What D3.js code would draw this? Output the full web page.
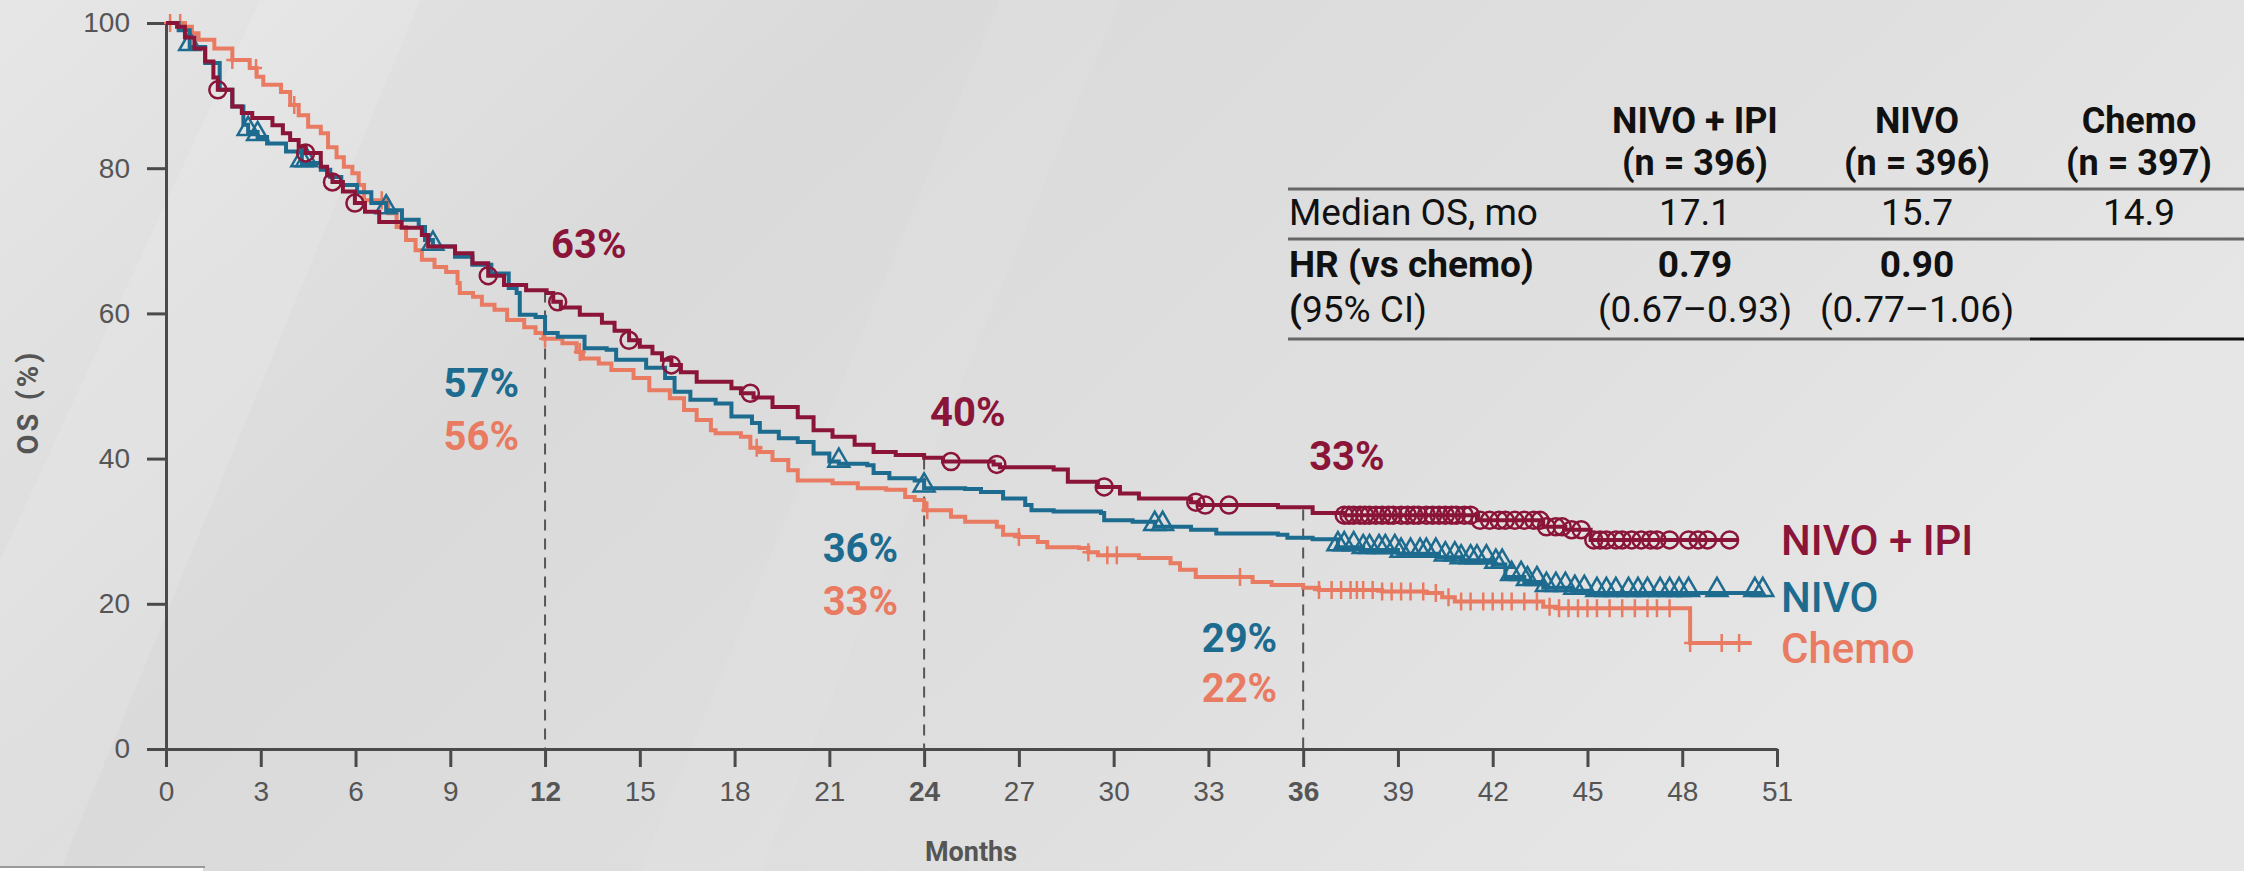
<!DOCTYPE html>
<html>
<head>
<meta charset="UTF-8">
<style>
  * { margin: 0; }
  body { background: #dedede; }
  svg { font-family: Roboto, "Open Sans", sans-serif; }
  .axis path, .axis line { stroke: #4a4a4a; stroke-width: 3px; }
  .axis text { fill: #555; font-size: 28px; }
  .tbl { fill: #111; }
</style>
<script src="https://cdn.jsdelivr.net/npm/d3@7"></script>
</head>
<body>
<svg id="chart" width="2244" height="871"></svg>
<script>
// ---- data ----
var series = ["NIVO + IPI", "NIVO", "Chemo"];
var colors = ["#8a1538", "#1d6b8f", "#e87b62"];

// [month, OS %] corners of the KM steps
var nivoIpi = [[0,100],[0.35,99.5],[0.6,98],[0.9,96.5],[1.24,94.7],[1.5,92.5],[1.64,90.8],[2.1,88.5],[2.4,87.6],
  [2.73,86.9],[3.37,85.9],[3.7,84.8],[3.93,83.9],[4.2,83.0],[4.42,82.1],[4.9,80.2],[5.1,79.0],[5.27,78.1],
  [5.6,76.8],[5.98,75.2],[6.3,74.0],[6.75,72.6],[7.46,71.8],[8.1,70.8],[8.3,69.2],[9.15,68.3],[9.7,66.9],
  [10.2,65.2],[10.7,63.9],[11.4,63.2],[12.05,62.8],[12.26,61.6],[12.5,60.8],[13.1,59.8],[13.8,58.7],
  [14.2,57.6],[14.66,56.3],[15.0,55.4],[15.4,54.5],[15.7,53.6],[16.0,52.9],[16.3,51.9],[16.8,50.6],
  [17.9,49.7],[18.2,49.0],[18.6,48.4],[19.2,47.1],[20.0,45.7],[20.5,43.9],[21.1,43.0],[21.8,41.9],
  [22.4,40.9],[23.1,40.5],[24.0,40.1],[24.6,39.6],[26.2,39.2],[26.4,38.8],[28.1,38.5],[28.55,36.8],
  [29.5,36.1],[30.2,35.2],[30.8,34.5],[32.45,34.0],[32.7,33.6],[35.2,33.3],[36.3,32.5],[37.3,32.2],
  [41.5,31.5],[43.6,30.6],[44.3,30.2],[45.1,28.8],[49.75,28.8]];

var nivo = [[0,100],[0.4,99],[0.75,96.7],[1.24,94.5],[1.7,90.8],[2.1,88.5],[2.45,86],[2.6,85.0],[2.9,84.3],
  [3.2,83.4],[3.8,82.3],[4.3,80.7],[4.9,79.8],[5.2,78.8],[5.55,77.7],[6.05,76.7],[6.5,75.2],[6.97,74.2],
  [7.47,72.9],[8.0,71.9],[8.2,70.1],[8.45,69.2],[9.15,67.8],[9.7,66.7],[10.3,65.5],[10.85,63.5],[11.1,62.8],
  [11.2,59.8],[11.7,59.5],[12.0,57.3],[12.4,56.8],[13.25,55.2],[13.95,55.0],[14.25,53.6],[15.2,52.5],
  [15.8,51.1],[16.1,49.2],[16.6,48.1],[17.4,47.6],[17.9,45.8],[18.55,44.9],[18.8,43.7],[19.4,42.8],
  [20.0,42.3],[20.5,40.7],[21.0,39.6],[21.3,39.3],[22.2,39.1],[22.4,38.0],[22.9,37.3],[23.7,37.0],
  [24.0,35.9],[25.3,35.8],[25.8,35.4],[26.5,34.5],[27.2,33.6],[27.4,32.9],[28.1,32.7],[29.6,32.5],
  [29.7,31.5],[30.6,31.3],[31.3,30.6],[32.45,30.2],[33.25,29.7],[35.2,29.5],[35.5,29.1],[36.3,28.9],
  [37.1,27.8],[37.9,27.4],[39.0,26.9],[40.3,26.4],[41.0,26.0],[42.0,25.4],[42.4,23.7],[43.0,23.0],
  [43.6,22.2],[44.5,21.8],[45.1,21.5],[50.55,21.5]];

var chemo = [[0,100],[0.6,99.5],[0.82,98.6],[1.03,97.7],[1.53,96.5],[2.1,94.9],[2.65,93.8],[2.87,92.6],
  [3.08,91.5],[3.64,90.5],[3.93,88.7],[4.2,87.3],[4.5,85.7],[4.9,84.8],[5.13,82.9],[5.4,81.5],[5.63,80.2],
  [5.9,79.3],[6.1,77.7],[6.27,75.6],[7.03,73.8],[7.3,71.9],[7.6,70.1],[7.9,68.7],[8.1,67.4],[8.5,66.4],
  [8.87,65.7],[9.23,64.2],[9.3,62.8],[9.72,62.3],[10.0,61.2],[10.4,60.5],[10.8,59.1],[11.34,58.1],
  [11.7,57.3],[11.95,56.5],[12.55,55.9],[13.0,54.7],[13.2,53.8],[13.7,53.1],[14.1,52.2],[14.8,51.1],
  [15.3,49.4],[15.95,48.3],[16.4,46.7],[16.8,45.3],[17.25,43.9],[17.4,43.5],[18.2,43.0],[18.5,41.5],
  [18.8,40.9],[19.2,39.8],[19.7,38.4],[20.0,37.0],[21.1,36.6],[21.9,35.9],[22.8,35.7],[23.4,34.7],
  [23.7,34.3],[24.0,32.9],[24.85,32.0],[25.3,31.3],[26.3,30.6],[26.5,29.5],[27.0,29.2],[27.6,28.5],
  [27.9,27.8],[28.9,27.7],[29.2,27.1],[29.5,26.7],[30.8,26.3],[31.8,25.6],[32.1,24.7],[32.6,23.7],
  [34.4,23.0],[35.0,22.6],[36.0,22.2],[36.5,21.9],[38.5,21.7],[39.9,21.5],[40.4,20.9],[40.8,20.3],
  [43.6,19.6],[44.0,19.4],[48.25,14.6],[50.2,14.6]];

// censored months
var nivoIpiCens = [1.64,4.42,5.27,5.98,10.2,12.4,14.66,16.0,18.5,24.85,26.3,29.7,32.6,32.9,33.65,
  37.3,37.45,37.6,37.8,37.95,38.1,38.3,38.5,38.7,38.85,39.1,39.3,39.5,39.65,39.9,40.1,40.3,40.5,40.7,
  40.85,41.1,41.3,41.6,41.9,42.2,42.4,42.7,43.0,43.3,43.5,43.7,44.0,44.2,44.5,44.8,45.2,45.4,45.6,45.9,
  46.1,46.4,46.7,47.0,47.2,47.6,48.2,48.5,48.8,49.5];
var nivoCens = [0.75,2.6,2.9,4.3,4.45,6.97,8.45,21.3,24.0,31.3,31.55,37.1,37.3,37.6,37.9,38.1,38.4,38.6,
  38.9,39.1,39.4,39.7,39.9,40.2,40.5,40.8,41.0,41.3,41.5,41.8,42.1,42.3,42.6,42.9,43.1,43.4,43.7,44.0,
  44.3,44.6,44.9,45.3,45.6,45.9,46.3,46.6,46.9,47.3,47.6,47.9,48.2,49.1,50.3,50.55];
var chemoCens = [0.13,0.45,2.1,2.85,4.06,6.83,12.0,13.1,18.7,24.1,27.0,29.2,29.8,30.1,34.0,36.5,36.9,
  37.2,37.5,37.7,37.9,38.2,38.5,38.8,39.1,39.4,39.8,40.2,40.6,41.0,41.3,41.7,42.0,42.3,42.6,43.0,43.4,
  43.8,44.1,44.4,44.7,45.0,45.3,45.7,46.1,46.5,46.9,47.2,47.6,48.25,49.25,49.8];

var xTicks = [0,3,6,9,12,15,18,21,24,27,30,33,36,39,42,45,48,51];
var yTicks = [0,20,40,60,80,100];
var landmarks = [12, 24, 36];
var ipiAt = [63, 40, 33];
var nivoAt = [57, 36, 29];
var chemoAt = [56, 33, 22];

var tableHead = [["NIVO + IPI", "(n = 396)"], ["NIVO", "(n = 396)"], ["Chemo", "(n = 397)"]];
var medianOS = ["17.1", "15.7", "14.9"];
var hr = ["0.79", "0.90", ""];
var hrCI = ["(0.67\u20130.93)", "(0.77\u20131.06)", ""];

// ---- drawing ----
var svg = d3.select("#chart");

var defs = svg.append("defs");
var bg = defs.append("linearGradient").attr("id", "bg").attr("x1", "0").attr("x2", "1").attr("y1", "0").attr("y2", "0.4");
bg.append("stop").attr("offset", "0").attr("stop-color", "#e6e6e6");
bg.append("stop").attr("offset", "0.35").attr("stop-color", "#dadada");
bg.append("stop").attr("offset", "0.7").attr("stop-color", "#dfdfdf");
bg.append("stop").attr("offset", "1").attr("stop-color", "#e6e6e6");
svg.append("rect").attr("width", 2244).attr("height", 871).attr("fill", "url(#bg)");
// faint diagonal streaks of the slide background
svg.append("polygon").attr("points", "0,560 260,0 420,0 60,871 0,871").attr("fill", "#ffffff").attr("opacity", 0.12);
svg.append("polygon").attr("points", "640,871 1000,0 1120,0 760,871").attr("fill", "#ffffff").attr("opacity", 0.08);
svg.append("rect").attr("x", 0).attr("y", 866).attr("width", 205).attr("height", 2).attr("fill", "#9a9a9a");
svg.append("rect").attr("x", 0).attr("y", 868).attr("width", 203).attr("height", 3).attr("fill", "#ffffff");

var x = d3.scaleLinear().domain([0, 51]).range([166, 1777]);
var y = d3.scaleLinear().domain([0, 100]).range([749, 23]);

// axes
var gy = svg.append("g").attr("class", "axis").attr("transform", "translate(166,0)")
  .call(d3.axisLeft(y).tickValues(yTicks).tickSize(19).tickSizeOuter(0).tickPadding(17));
var gx = svg.append("g").attr("class", "axis").attr("transform", "translate(0,749)")
  .call(d3.axisBottom(x).tickValues(xTicks).tickSize(18).tickSizeOuter(0).tickPadding(14));
gx.selectAll(".tick text").filter(d => landmarks.indexOf(d) >= 0).attr("font-weight", "bold");
svg.selectAll(".axis .domain").attr("stroke", "#4a4a4a");

svg.append("text").attr("transform", "translate(38,402) rotate(-90)")
  .attr("text-anchor", "middle").attr("font-size", 29).attr("font-weight", "bold")
  .attr("letter-spacing", 3).attr("fill", "#555").text("OS (%)");
svg.append("text").attr("x", 971).attr("y", 861).attr("text-anchor", "middle")
  .attr("font-size", 27).attr("font-weight", "bold").attr("fill", "#555").text("Months");

// landmark dashed lines
svg.append("g").selectAll("line").data(landmarks).join("line")
  .attr("x1", d => x(d)).attr("x2", d => x(d))
  .attr("y1", (d, i) => y(ipiAt[i])).attr("y2", y(0))
  .attr("stroke", "#555").attr("stroke-width", 2).attr("stroke-dasharray", "11,8");

// curves
var curves = [nivoIpi, nivo, chemo];
var cens = [nivoIpiCens, nivoCens, chemoCens];
var line = d3.line().x(d => x(d[0])).y(d => y(d[1])).curve(d3.curveStepAfter);
var bisect = d3.bisector(d => d[0]).right;
function valueAt(data, t) { return data[Math.max(0, bisect(data, t) - 1)][1]; }

[2, 1, 0].forEach(function(k) {
  var g = svg.append("g");
  g.append("path").datum(curves[k]).attr("d", line)
    .attr("fill", "none").attr("stroke", colors[k]).attr("stroke-width", 4);
  var marks = g.selectAll("g.m").data(cens[k]).join("g")
    .attr("transform", d => "translate(" + x(d) + "," + y(valueAt(curves[k], d)) + ")");
  if (k === 0) {
    marks.append("circle").attr("r", 8.5).attr("fill", "none")
      .attr("stroke", colors[k]).attr("stroke-width", 2.5);
  } else if (k === 1) {
    marks.append("path").attr("d", d3.symbol(d3.symbolTriangle, 190)())
      .attr("transform", "translate(0,-3)")
      .attr("fill", "none").attr("stroke", colors[k]).attr("stroke-width", 2.5);
  } else {
    marks.append("path").attr("d", "M0,-9V9M-6,0H6")
      .attr("stroke", colors[k]).attr("stroke-width", 2.5);
  }
});

// series labels at right
var endY = [555, 612, 663];
svg.append("g").selectAll("text").data(series).join("text")
  .attr("x", 1781).attr("y", (d, i) => endY[i])
  .attr("font-size", 42).attr("font-weight", 500)
  .attr("fill", (d, i) => colors[i]).text(d => d);

// landmark percentages
var ipiY = [258, 426, 470];
var nivoY = [397, 562, 652];
var chemoY = [450, 615, 702];
var pg = svg.append("g").attr("font-size", 40).attr("font-weight", "bold");
landmarks.forEach(function(t, i) {
  pg.append("text").attr("x", x(t) + 6).attr("y", ipiY[i]).attr("fill", colors[0]).text(ipiAt[i] + "%");
  pg.append("text").attr("x", x(t) - 26).attr("y", nivoY[i]).attr("text-anchor", "end")
    .attr("fill", colors[1]).text(nivoAt[i] + "%");
  pg.append("text").attr("x", x(t) - 26).attr("y", chemoY[i]).attr("text-anchor", "end")
    .attr("fill", colors[2]).text(chemoAt[i] + "%");
});

// table
var colX = [1695, 1917, 2139];
var tb = svg.append("g").attr("class", "tbl");
tableHead.forEach(function(h, i) {
  tb.append("text").attr("x", colX[i]).attr("y", 133).attr("text-anchor", "middle")
    .attr("font-size", 36).attr("font-weight", "bold").text(h[0]);
  tb.append("text").attr("x", colX[i]).attr("y", 175).attr("text-anchor", "middle")
    .attr("font-size", 36).attr("font-weight", "bold").text(h[1]);
  tb.append("text").attr("x", colX[i]).attr("y", 225).attr("text-anchor", "middle")
    .attr("font-size", 37).text(medianOS[i]);
  tb.append("text").attr("x", colX[i]).attr("y", 277).attr("text-anchor", "middle")
    .attr("font-size", 37).attr("font-weight", "bold").text(hr[i]);
  tb.append("text").attr("x", colX[i]).attr("y", 322).attr("text-anchor", "middle")
    .attr("font-size", 37).text(hrCI[i]);
});
tb.append("text").attr("x", 1289).attr("y", 225).attr("font-size", 37).text("Median OS, mo");
tb.append("text").attr("x", 1289).attr("y", 277).attr("font-size", 37).attr("font-weight", "bold").text("HR (vs chemo)");
var ci = tb.append("text").attr("x", 1289).attr("y", 322).attr("font-size", 37);
ci.append("tspan").attr("font-weight", "bold").text("(");
ci.append("tspan").text("95% CI)");

[189, 239].forEach(function(yy) {
  tb.append("line").attr("x1", 1288).attr("x2", 2244).attr("y1", yy).attr("y2", yy)
    .attr("stroke", "#666").attr("stroke-width", 3);
});
tb.append("line").attr("x1", 1288).attr("x2", 2030).attr("y1", 339).attr("y2", 339)
  .attr("stroke", "#666").attr("stroke-width", 3);
tb.append("line").attr("x1", 2030).attr("x2", 2244).attr("y1", 339).attr("y2", 339)
  .attr("stroke", "#111").attr("stroke-width", 3);
</script>
</body>
</html>
